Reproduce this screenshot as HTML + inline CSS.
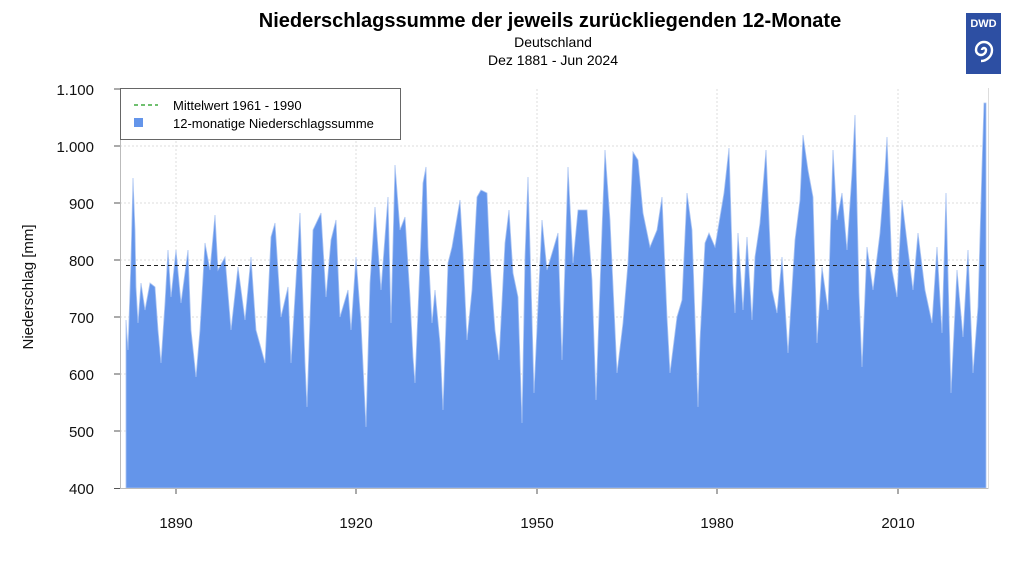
<!DOCTYPE html>
<html><head><meta charset="utf-8"><style>
body{margin:0;background:#fff;}
svg{display:block;font-family:"Liberation Sans",Arial,sans-serif;}
</style></head><body>
<svg width="1024" height="576" viewBox="0 0 1024 576" xmlns="http://www.w3.org/2000/svg">
<rect width="1024" height="576" fill="#fff"/>
<text x="550" y="27" text-anchor="middle" font-size="20" font-weight="bold">Niederschlagssumme der jeweils zurückliegenden 12-Monate</text>
<text x="553" y="47" text-anchor="middle" font-size="14">Deutschland</text>
<text x="553" y="65" text-anchor="middle" font-size="14">Dez 1881 - Jun 2024</text>
<!-- logo -->
<rect x="966" y="13" width="35" height="61" fill="#2d4fa3"/>
<text x="983.5" y="27" text-anchor="middle" font-size="11" font-weight="bold" fill="#fff">DWD</text>
<path d="M984 50 m-2 0 a2 2 0 1 1 4 0 a5 5 0 0 1 -10 0 a8 8 0 0 1 16 0 a11 11 0 0 1 -11 11" fill="none" stroke="#fff" stroke-width="2.4"/>
<!-- grid -->
<g stroke="#ddd" stroke-width="1" stroke-dasharray="2,2">
<line x1="120" y1="146" x2="988" y2="146"/><line x1="120" y1="203" x2="988" y2="203"/>
<line x1="120" y1="260" x2="988" y2="260"/><line x1="120" y1="317" x2="988" y2="317"/>
<line x1="120" y1="374" x2="988" y2="374"/><line x1="120" y1="431" x2="988" y2="431"/>
<line x1="176" y1="89" x2="176" y2="488"/><line x1="356" y1="89" x2="356" y2="488"/>
<line x1="537" y1="89" x2="537" y2="488"/><line x1="717" y1="89" x2="717" y2="488"/>
<line x1="898" y1="89" x2="898" y2="488"/>
</g>
<polygon fill="#6495ea" stroke="#a9c3f2" stroke-width="0.8" stroke-linejoin="miter" points="126,488 126,320 128,350 131,260 133,178 135,230 136,287 138,323 141,283 145,310 150,283 155,287 158,330 161,363 165,303 168,250 171,297 176,250 181,303 188,250 191,330 196,377 200,330 205,243 210,270 215,215 218,270 225,257 231,330 238,267 245,320 251,257 256,330 265,363 271,237 275,223 281,317 288,287 291,363 300,213 305,363 307,407 313,230 321,213 326,297 331,240 336,220 340,317 348,290 351,330 356,257 361,323 366,427 370,283 375,207 381,290 388,197 391,323 395,165 400,230 405,217 410,297 413,357 415,383 420,263 423,183 426,167 428,247 432,323 435,290 440,343 443,410 448,263 452,247 460,200 463,253 467,340 472,290 477,197 481,190 487,193 490,263 495,330 499,360 505,243 509,210 513,273 518,297 522,423 525,257 528,177 532,317 534,393 542,220 547,270 553,250 558,233 562,360 568,167 573,263 578,210 587,210 592,280 596,400 602,230 605,150 610,220 617,373 623,323 628,263 633,152 638,160 643,213 650,247 657,230 662,197 667,317 670,373 677,317 682,300 687,193 692,230 698,407 700,340 705,243 709,233 715,247 720,217 724,193 729,148 733,283 735,313 738,233 743,310 747,237 752,320 755,257 760,223 766,150 772,290 777,313 782,257 788,353 795,240 800,200 803,135 808,170 813,197 817,343 822,267 828,310 833,150 837,220 842,193 847,250 852,173 855,115 859,293 862,367 867,247 873,290 880,233 885,170 887,137 892,270 897,297 902,200 908,250 913,290 918,233 925,290 932,323 937,247 942,333 946,193 951,393 957,270 963,337 968,250 973,373 978,307 982,167 984,103 986,103 986,488"/>
<line x1="126" y1="265.5" x2="986" y2="265.5" stroke="#222" stroke-width="1" stroke-dasharray="4,3"/>
<!-- axes -->
<g stroke="#bbb" stroke-width="1">
<line x1="120.5" y1="88" x2="120.5" y2="489"/>
<line x1="120" y1="488.5" x2="988" y2="488.5"/>
<line x1="988.5" y1="88" x2="988.5" y2="489" stroke="#ddd"/>
</g>
<g stroke="#555" stroke-width="1">
<line x1="114" y1="89" x2="120" y2="89"/><line x1="114" y1="146" x2="120" y2="146"/>
<line x1="114" y1="203" x2="120" y2="203"/><line x1="114" y1="260" x2="120" y2="260"/>
<line x1="114" y1="317" x2="120" y2="317"/><line x1="114" y1="374" x2="120" y2="374"/>
<line x1="114" y1="431" x2="120" y2="431"/><line x1="114" y1="488.5" x2="120" y2="488.5"/>
<line x1="176" y1="489" x2="176" y2="494"/><line x1="356" y1="489" x2="356" y2="494"/>
<line x1="537" y1="489" x2="537" y2="494"/><line x1="717" y1="489" x2="717" y2="494"/>
<line x1="898" y1="489" x2="898" y2="494"/>
</g>
<g font-size="15" text-anchor="end" fill="#111">
<text x="94" y="95">1.100</text><text x="94" y="152">1.000</text>
<text x="94" y="209">900</text><text x="94" y="266">800</text>
<text x="94" y="323">700</text><text x="94" y="380">600</text>
<text x="94" y="437">500</text><text x="94" y="494">400</text>
</g>
<g font-size="15" text-anchor="middle" fill="#111">
<text x="176" y="528">1890</text><text x="356" y="528">1920</text>
<text x="537" y="528">1950</text><text x="717" y="528">1980</text>
<text x="898" y="528">2010</text>
</g>
<text transform="translate(33,287) rotate(-90)" text-anchor="middle" font-size="15" fill="#111">Niederschlag [mm]</text>
<!-- legend -->
<rect x="120.5" y="88.5" width="280" height="51" fill="#fff" stroke="#666" stroke-width="1"/>
<line x1="134" y1="105" x2="158" y2="105" stroke="#1a9a1a" stroke-width="1.2" stroke-dasharray="4,3"/>
<rect x="134" y="118" width="9" height="9" fill="#6495ea"/>
<text x="173" y="110" font-size="13">Mittelwert 1961 - 1990</text>
<text x="173" y="128" font-size="13">12-monatige Niederschlagssumme</text>
</svg>
</body></html>
